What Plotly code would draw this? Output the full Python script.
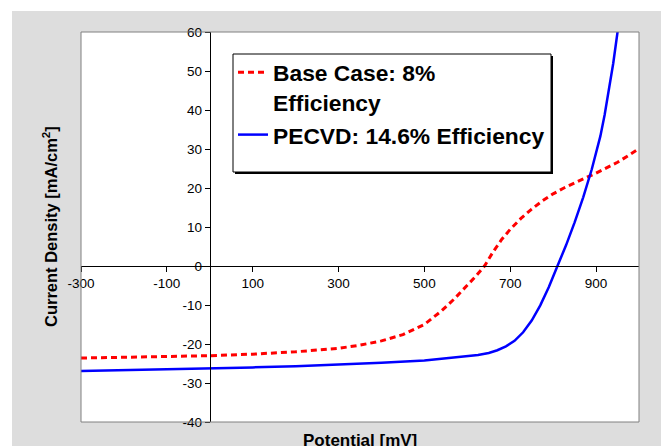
import plotly.graph_objects as go

# J-V curves: potential in mV, current density in mA/cm^2
base_potential = [-300, -200, -100, 0, 100, 200, 300, 350, 400, 450, 500, 540, 570,
                  600, 620, 640, 660, 680, 700, 725, 750, 775, 800, 825, 850, 875,
                  900, 925, 950, 975, 1000]
base_current = [-23.6, -23.4, -23.2, -23.0, -22.6, -22.0, -21.1, -20.3, -19.2, -17.6,
                -15.0, -11.5, -8.4, -5.0, -2.6, 0.0, 3.6, 6.8, 9.4, 12.2, 14.6, 16.7,
                18.5, 20.0, 21.4, 22.6, 23.8, 25.1, 26.6, 28.3, 30.1]

pecvd_potential = [-300, -200, -100, 0, 100, 200, 300, 400, 500, 550, 600, 625, 650,
                   670, 690, 710, 730, 750, 770, 790, 810, 830, 850, 870, 890, 910,
                   920, 930, 940, 950, 965]
pecvd_current = [-26.9, -26.7, -26.5, -26.3, -26.0, -25.7, -25.3, -24.8, -24.2, -23.7,
                 -23.1, -22.8, -22.3, -21.6, -20.6, -19.2, -17.0, -14.0, -10.1, -5.4,
                 0.0, 5.3, 11.2, 17.6, 24.8, 33.3, 38.8, 45.0, 52.0, 60.0, 73.0]

x_ticks = [-300, -100, 100, 300, 500, 700, 900]
x_tick_labels = ["-300", "-100", "100", "300", "500", "700", "900"]
y_ticks = [-40, -30, -20, -10, 0, 10, 20, 30, 40, 50, 60]
y_tick_labels = ["-40", "-30", "-20", "-10", "0", "10", "20", "30", "40", "50", "60"]
x_range = [-300, 1000]
y_range = [-40, 60]

series_names = ["Base Case: 8%<br>Efficiency", "PECVD: 14.6% Efficiency"]

FONT = "Liberation Sans, Arial, sans-serif"
W, H = 665, 446
L, R, T, B = 81, 26, 32, 24
PW, PH = W - L - R, H - T - B


def px_x(p):
    return (p - L) / PW


def px_y(p):
    return (H - B - p) / PH


fig = go.Figure()
fig.add_trace(go.Scatter(
    x=base_potential, y=base_current, mode="lines", name=series_names[0],
    line=dict(color="#ff0000", width=3, dash="6px,4px"),
))
fig.add_trace(go.Scatter(
    x=pecvd_potential, y=pecvd_current, mode="lines", name=series_names[1],
    line=dict(color="#0000ff", width=2.5),
))

shapes = [
    # white page margins around the grey chart area
    dict(type="rect", xref="paper", yref="paper", x0=px_x(0), x1=px_x(W),
         y0=px_y(11), y1=px_y(0), fillcolor="white", line_width=0, layer="above"),
    dict(type="rect", xref="paper", yref="paper", x0=px_x(0), x1=px_x(12),
         y0=px_y(H), y1=px_y(0), fillcolor="white", line_width=0, layer="above"),
    dict(type="rect", xref="paper", yref="paper", x0=px_x(661), x1=px_x(W),
         y0=px_y(H), y1=px_y(0), fillcolor="white", line_width=0, layer="above"),
    # plot area frame
    dict(type="rect", xref="paper", yref="paper", x0=0, x1=1, y0=0, y1=1,
         line=dict(color="#808080", width=1), layer="above"),
    # legend box with drop shadow
    dict(type="rect", xref="paper", yref="paper", x0=px_x(235), x1=px_x(553),
         y0=px_y(174), y1=px_y(56), fillcolor="black", line_width=0, layer="above"),
    dict(type="rect", xref="paper", yref="paper", x0=px_x(233), x1=px_x(551),
         y0=px_y(172), y1=px_y(54), fillcolor="white",
         line=dict(color="black", width=1), layer="above"),
]

annotations = [
    dict(text="Potential [mV]", xref="paper", yref="paper", x=0.5, y=px_y(452),
         xanchor="center", yanchor="bottom", showarrow=False,
         font=dict(family=FONT, size=17, color="black", weight="bold")),
    dict(text="Current Density [mA/cm<sup>2</sup>]", xref="paper", yref="paper",
         x=px_x(50), y=0.5, xanchor="center", yanchor="middle", textangle=-90,
         showarrow=False,
         font=dict(family=FONT, size=16.5, color="black", weight="bold")),
]

fig.update_layout(
    width=W, height=H,
    margin=dict(l=L, r=R, t=T, b=B, pad=0),
    paper_bgcolor="#dddddd",
    plot_bgcolor="white",
    font=dict(family=FONT, size=13.5, color="black"),
    xaxis=dict(
        range=x_range, tickvals=x_ticks, ticktext=x_tick_labels, anchor="free",
        position=(0 - y_range[0]) / (y_range[1] - y_range[0]),
        showline=True, linecolor="black", linewidth=1,
        ticks="outside", ticklen=5, tickcolor="black", tickwidth=1,
        showgrid=False, zeroline=False,
    ),
    yaxis=dict(
        range=y_range, tickvals=y_ticks, ticktext=y_tick_labels, anchor="free",
        position=(0 - x_range[0]) / (x_range[1] - x_range[0]),
        showline=True, linecolor="black", linewidth=1,
        ticks="outside", ticklen=5, tickcolor="black", tickwidth=1,
        showgrid=False, zeroline=False,
    ),
    showlegend=True,
    legend=dict(
        x=px_x(233), y=px_y(51), xanchor="left", yanchor="top",
        bgcolor="rgba(0,0,0,0)", borderwidth=0, valign="top",
        font=dict(family=FONT, size=22.8, color="black", weight="bold"),
        tracegroupgap=0,
    ),
    shapes=shapes,
    annotations=annotations,
)

fig.write_html("out.html")
